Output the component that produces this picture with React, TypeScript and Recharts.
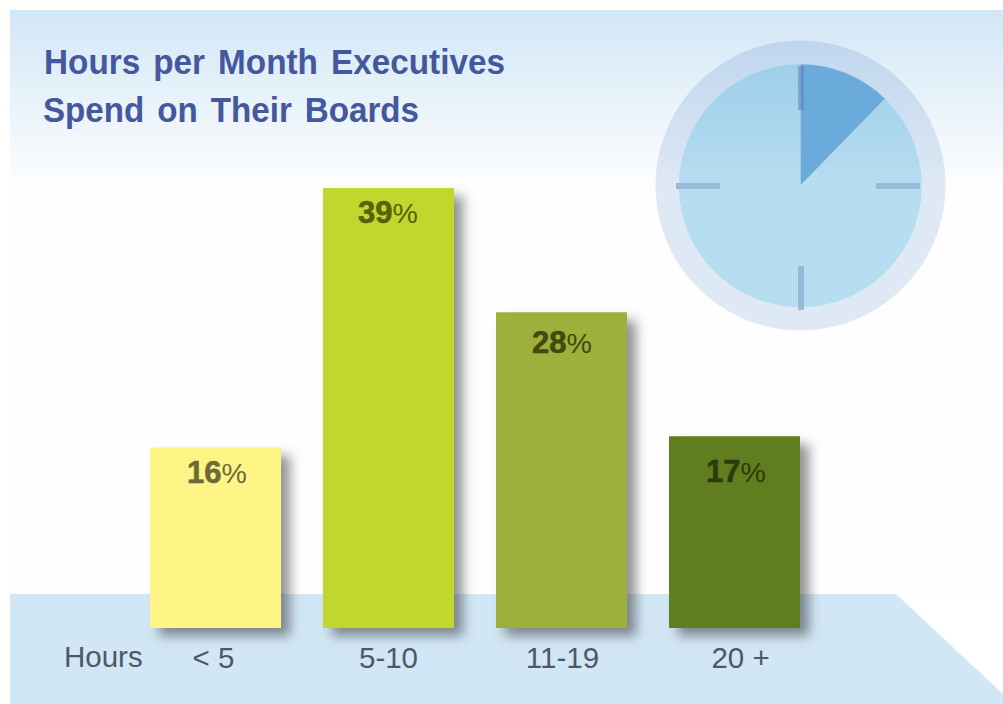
import { BarChart, Bar, XAxis, YAxis, Cell, LabelList, PieChart, Pie, Rectangle } from 'recharts';

const categories = ['< 5', '5-10', '11-19', '20 +'];
const shares = [16, 39, 28, 17];
const barColors = ['#FFF587', '#C1D72E', '#9FAF3B', '#607D1F'];
const labelColors = ['#6E6A38', '#56620C', '#3F4A10', '#2B3C0A'];
// small nudges, the source labels are not quite centred or evenly dropped
const tickNudge = [-2, 0, 1, 6];
const labelNudge = [2, 0, 1, 2];
const labelDrop = [35, 35, 41, 46];

const clockWedge = [12.3, 87.7];
const clockRing = [100];

const FONT = '"Liberation Sans", Arial, sans-serif';
const W = 1003;
const H = 704;

const data = categories.map((name, i) => ({ name, share: shares[i] }));

function BarLabel(props: any) {
  const { x, y, width, index } = props;
  return (
    <text
      x={x + width / 2 - 0.5 + labelNudge[index]}
      y={y + labelDrop[index]}
      textAnchor="middle"
      fontFamily={FONT}
      fill={labelColors[index]}
    >
      <tspan fontWeight="bold" fontSize={31} stroke={labelColors[index]} strokeWidth={0.6}>{shares[index]}</tspan>
      <tspan fontSize={28.5}>%</tspan>
    </text>
  );
}

function HourTick(props: any) {
  const { x, payload, index } = props;
  return (
    <text x={x + tickNudge[index]} y={668} textAnchor="middle" fontFamily={FONT} fontSize={29.5} fill="#4C5A66">
      {payload.value}
    </text>
  );
}

function ShadowBar(props: any) {
  return <Rectangle {...props} style={{ filter: 'drop-shadow(9px 8px 6px rgba(40,40,40,0.5))' }} />;
}

export default function App() {
  return (
    <div style={{ position: 'absolute', left: 0, top: 0, width: W, height: H, overflow: 'hidden', background: '#fff' }}>
      <svg width={W} height={H} style={{ position: 'absolute', left: 0, top: 0 }}>
        <defs>
          <linearGradient id="sky" x1="0" y1="0" x2="0" y2="1">
            <stop offset="0" stopColor="#D2E7F6" />
            <stop offset="1" stopColor="#FEFEFE" />
          </linearGradient>
        </defs>
        <rect x={10} y={10} width={993} height={180} fill="url(#sky)" />
        <rect x={10} y={190} width={993} height={404} fill="#FEFEFE" />
        <polygon points="10,594 896,594 1003,694 1003,704 10,704" fill="#D2E7F6" />
      </svg>

      <div style={{ position: 'absolute', left: 0, top: 0 }}>
        <PieChart width={W} height={H} margin={{ top: 0, right: 0, bottom: 0, left: 0 }}>
          <defs>
            <linearGradient id="ringFill" x1="0" y1="0" x2="0" y2="1">
              <stop offset="0" stopColor="#BFD6EE" />
              <stop offset="0.5" stopColor="#DFE8F5" />
              <stop offset="1" stopColor="#DFE8F5" />
            </linearGradient>
            <linearGradient id="faceFill" x1="0" y1="0" x2="0" y2="1">
              <stop offset="0" stopColor="#9FCFE9" />
              <stop offset="0.5" stopColor="#B7DDF1" />
              <stop offset="1" stopColor="#B7DDF1" />
            </linearGradient>
          </defs>
          <Pie
            data={clockRing.map((value) => ({ value }))}
            dataKey="value"
            cx={800.5}
            cy={185.5}
            innerRadius={120}
            outerRadius={145}
            startAngle={90}
            endAngle={-270}
            stroke="none"
            fill="url(#ringFill)"
            isAnimationActive={false}
          />
          <Pie
            data={clockWedge.map((value) => ({ value }))}
            dataKey="value"
            cx={800.3}
            cy={185.8}
            innerRadius={0}
            outerRadius={121.5}
            startAngle={90}
            endAngle={-270}
            stroke="none"
            isAnimationActive={false}
          >
            <Cell fill="#6AABDB" />
            <Cell fill="url(#faceFill)" />
          </Pie>
        </PieChart>
      </div>

      <div style={{ position: 'absolute', left: 0, top: 0 }}>
        <BarChart
          width={W}
          height={H}
          data={data}
          margin={{ top: 64, right: 182, bottom: 0, left: 129 }}
          barCategoryGap={21}
        >
          <XAxis
            dataKey="name"
            axisLine={false}
            tickLine={false}
            interval={0}
            height={76}
            tick={(p: any) => <HourTick {...p} />}
          />
          <YAxis hide domain={[0, 50]} />
          <Bar dataKey="share" isAnimationActive={false} shape={ShadowBar}>
            {data.map((d, i) => (
              <Cell key={d.name} fill={barColors[i]} />
            ))}
            <LabelList dataKey="share" content={BarLabel} />
          </Bar>
        </BarChart>
      </div>

      <svg width={W} height={H} style={{ position: 'absolute', left: 0, top: 0, pointerEvents: 'none' }}>
        <rect x={798} y={66} width={6} height={44} fill="#5F7FB5" fillOpacity={0.55} />
        <g fill="#9AB8DA">
          <rect x={798} y={266} width={6} height={44} />
          <rect x={676} y={183} width={44} height={6} />
          <rect x={876} y={183} width={44} height={6} />
        </g>
        <g fontFamily={FONT} fontWeight="bold" fontSize={35} fill="#45579D" style={{ wordSpacing: 4 }}>
          <text x={44} y={74} textLength={461} lengthAdjust="spacingAndGlyphs">Hours per Month Executives</text>
          <text x={43} y={122} textLength={376} lengthAdjust="spacingAndGlyphs">Spend on Their Boards</text>
        </g>
        <text x={64} y={667} fontFamily={FONT} fontSize={29.5} fill="#4C5A66">Hours</text>
      </svg>
    </div>
  );
}
